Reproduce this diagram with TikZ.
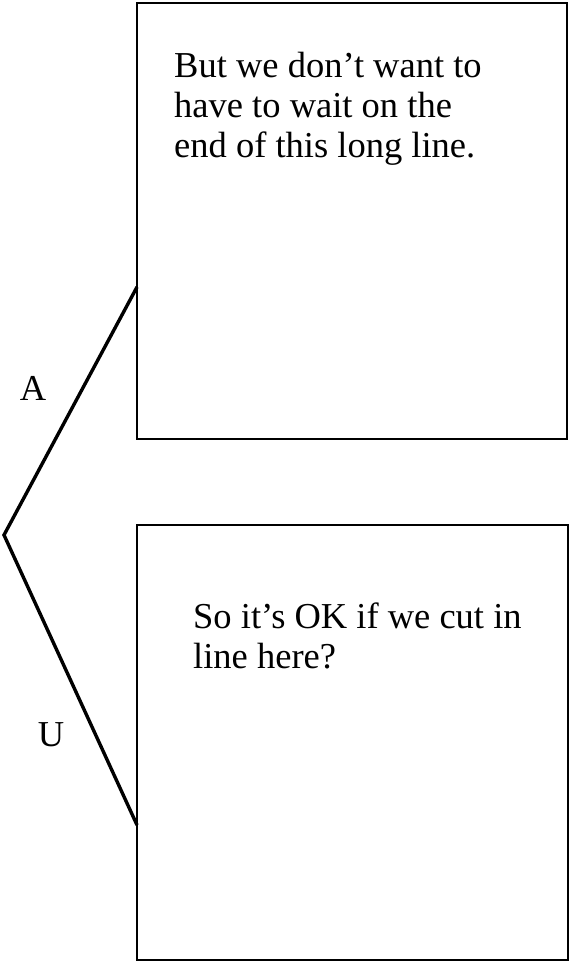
\documentclass[tikz,border=0pt]{standalone}
\usepackage{fontspec}
\usetikzlibrary{calc}
\setmainfont{Liberation Serif}
\begin{document}
\begin{tikzpicture}[x=1pt,y=-1pt,
  panel/.style={draw=black,line width=1.8pt,inner sep=0pt,outer sep=0pt,anchor=north west},
  speech/.style={inner sep=0pt,align=left,anchor=base west,font=\fontsize{36.5}{40}\selectfont},
  lbl/.style={inner sep=0pt,anchor=base,font=\fontsize{36.5}{40}\selectfont},
  branch/.style={line width=3.4pt,line join=miter}]
\useasboundingbox (0,0) rectangle (572,966);
\node[panel,minimum width=430pt,minimum height=436pt] (topbox) at (137,3) {};
\node[panel,minimum width=431pt,minimum height=435pt] (botbox) at (137,525) {};
\node[speech] (toptext) at (174,157) {But we don't want to\\have to wait on the\\end of this long line.};
\node[speech] (bottext) at (193,668) {So it's OK if we cut in\\line here?};
\coordinate (root) at (4,535);
\coordinate (aend) at ($(topbox.north west)+(0,284)$);
\coordinate (uend) at ($(botbox.north west)+(0,300)$);
\draw[branch] (aend) -- (root) -- (uend);
\node[lbl] (labA) at (33,400) {A};
\node[lbl] (labU) at (51,746) {U};
\end{tikzpicture}
\end{document}
